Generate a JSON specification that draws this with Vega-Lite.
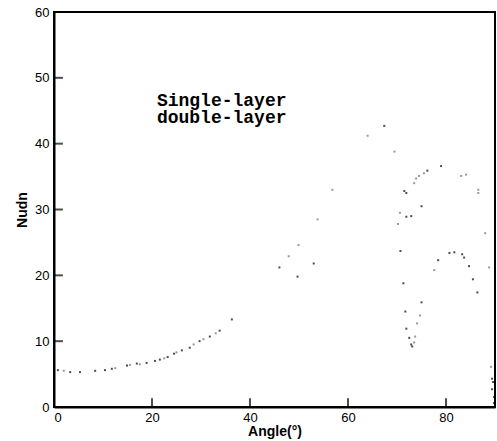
{
  "$schema": "https://vega.github.io/schema/vega-lite/v6.json",
  "width": 441,
  "height": 395,
  "autosize": {"type": "none"},
  "padding": {"left": 54, "top": 12, "right": 2, "bottom": 34},
  "background": "white",
  "config": {
    "view": {"stroke": "black", "strokeWidth": 2},
    "axis": {
      "grid": false,
      "domainColor": "black",
      "domainWidth": 2,
      "labelFont": "Liberation Sans",
      "labelFontSize": 13,
      "labelColor": "black",
      "titleFont": "Liberation Sans",
      "titleFontSize": 14,
      "titleFontWeight": "bold",
      "titleColor": "black"
    }
  },
  "datasets": {
    "pts": [
      {"angle": 0.8, "nu": 5.6, "series": "Single-layer"},
      {"angle": 3.3, "nu": 5.3, "series": "Single-layer"},
      {"angle": 5.3, "nu": 5.3, "series": "Single-layer"},
      {"angle": 8.4, "nu": 5.5, "series": "Single-layer"},
      {"angle": 10.4, "nu": 5.6, "series": "Single-layer"},
      {"angle": 11.8, "nu": 5.8, "series": "Single-layer"},
      {"angle": 14.9, "nu": 6.3, "series": "Single-layer"},
      {"angle": 16.9, "nu": 6.6, "series": "Single-layer"},
      {"angle": 18.9, "nu": 6.7, "series": "Single-layer"},
      {"angle": 20.6, "nu": 7.0, "series": "Single-layer"},
      {"angle": 21.6, "nu": 7.2, "series": "Single-layer"},
      {"angle": 23.2, "nu": 7.6, "series": "Single-layer"},
      {"angle": 24.5, "nu": 8.1, "series": "Single-layer"},
      {"angle": 26.1, "nu": 8.6, "series": "Single-layer"},
      {"angle": 27.7, "nu": 9.0, "series": "Single-layer"},
      {"angle": 29.7, "nu": 10.0, "series": "Single-layer"},
      {"angle": 31.8, "nu": 10.7, "series": "Single-layer"},
      {"angle": 33.8, "nu": 11.6, "series": "Single-layer"},
      {"angle": 36.3, "nu": 13.3, "series": "Single-layer"},
      {"angle": 46.0, "nu": 21.2, "series": "Single-layer"},
      {"angle": 49.7, "nu": 19.8, "series": "Single-layer"},
      {"angle": 53.0, "nu": 21.8, "series": "Single-layer"},
      {"angle": 67.4, "nu": 42.7, "series": "Single-layer"},
      {"angle": 71.5, "nu": 32.8, "series": "Single-layer"},
      {"angle": 71.9, "nu": 32.5, "series": "Single-layer"},
      {"angle": 76.2, "nu": 35.9, "series": "Single-layer"},
      {"angle": 79.0, "nu": 36.6, "series": "Single-layer"},
      {"angle": 75.0, "nu": 30.5, "series": "Single-layer"},
      {"angle": 72.9, "nu": 29.0, "series": "Single-layer"},
      {"angle": 71.9, "nu": 28.9, "series": "Single-layer"},
      {"angle": 70.7, "nu": 23.7, "series": "Single-layer"},
      {"angle": 71.3, "nu": 18.8, "series": "Single-layer"},
      {"angle": 71.7, "nu": 14.5, "series": "Single-layer"},
      {"angle": 71.9, "nu": 11.9, "series": "Single-layer"},
      {"angle": 72.5, "nu": 10.5, "series": "Single-layer"},
      {"angle": 72.9, "nu": 9.5, "series": "Single-layer"},
      {"angle": 73.1, "nu": 9.2, "series": "Single-layer"},
      {"angle": 80.7, "nu": 23.4, "series": "Single-layer"},
      {"angle": 81.7, "nu": 23.5, "series": "Single-layer"},
      {"angle": 83.3, "nu": 23.2, "series": "Single-layer"},
      {"angle": 83.7, "nu": 22.7, "series": "Single-layer"},
      {"angle": 78.4, "nu": 22.3, "series": "Single-layer"},
      {"angle": 84.7, "nu": 21.4, "series": "Single-layer"},
      {"angle": 85.5, "nu": 19.4, "series": "Single-layer"},
      {"angle": 86.4, "nu": 17.4, "series": "Single-layer"},
      {"angle": 75.0, "nu": 15.9, "series": "Single-layer"},
      {"angle": 89.4, "nu": 4.3, "series": "Single-layer"},
      {"angle": 89.6, "nu": 3.8, "series": "Single-layer"},
      {"angle": 89.4, "nu": 2.7, "series": "Single-layer"},
      {"angle": 89.8, "nu": 1.5, "series": "Single-layer"},
      {"angle": 89.8, "nu": 0.6, "series": "Single-layer"},
      {"angle": 2.0, "nu": 5.5, "series": "double-layer"},
      {"angle": 12.5, "nu": 5.9, "series": "double-layer"},
      {"angle": 15.5, "nu": 6.4, "series": "double-layer"},
      {"angle": 17.5, "nu": 6.5, "series": "double-layer"},
      {"angle": 22.5, "nu": 7.4, "series": "double-layer"},
      {"angle": 25.0, "nu": 8.3, "series": "double-layer"},
      {"angle": 28.5, "nu": 9.5, "series": "double-layer"},
      {"angle": 30.5, "nu": 10.3, "series": "double-layer"},
      {"angle": 33.0, "nu": 11.2, "series": "double-layer"},
      {"angle": 47.9, "nu": 22.9, "series": "double-layer"},
      {"angle": 49.9, "nu": 24.6, "series": "double-layer"},
      {"angle": 53.8, "nu": 28.5, "series": "double-layer"},
      {"angle": 56.8, "nu": 33.0, "series": "double-layer"},
      {"angle": 64.0, "nu": 41.2, "series": "double-layer"},
      {"angle": 69.5, "nu": 38.8, "series": "double-layer"},
      {"angle": 73.5, "nu": 34.0, "series": "double-layer"},
      {"angle": 73.9, "nu": 34.7, "series": "double-layer"},
      {"angle": 74.5, "nu": 35.1, "series": "double-layer"},
      {"angle": 75.5, "nu": 35.5, "series": "double-layer"},
      {"angle": 83.1, "nu": 35.1, "series": "double-layer"},
      {"angle": 84.1, "nu": 35.3, "series": "double-layer"},
      {"angle": 86.6, "nu": 33.0, "series": "double-layer"},
      {"angle": 86.6, "nu": 32.5, "series": "double-layer"},
      {"angle": 88.0, "nu": 26.4, "series": "double-layer"},
      {"angle": 88.8, "nu": 21.2, "series": "double-layer"},
      {"angle": 77.6, "nu": 20.8, "series": "double-layer"},
      {"angle": 74.7, "nu": 13.9, "series": "double-layer"},
      {"angle": 74.1, "nu": 12.7, "series": "double-layer"},
      {"angle": 73.7, "nu": 10.7, "series": "double-layer"},
      {"angle": 73.5, "nu": 9.8, "series": "double-layer"},
      {"angle": 70.2, "nu": 27.8, "series": "double-layer"},
      {"angle": 70.6, "nu": 29.5, "series": "double-layer"},
      {"angle": 89.2, "nu": 6.1, "series": "double-layer"}
    ],
    "legend": [
      {"angle": 21.0, "nu": 45.7, "label": "Single-layer"},
      {"angle": 21.0, "nu": 43.1, "label": "double-layer"}
    ],
    "xticks": [{"v": 0}, {"v": 20}, {"v": 40}, {"v": 60}, {"v": 80}],
    "yticks": [{"v": 0}, {"v": 10}, {"v": 20}, {"v": 30}, {"v": 40}, {"v": 50}, {"v": 60}]
  },
  "layer": [
    {
      "data": {"name": "pts"},
      "mark": {"type": "point", "filled": true, "size": 4, "shape": "square"},
      "encoding": {
        "x": {"field": "angle", "type": "quantitative", "scale": {"domain": [0, 90], "nice": false, "zero": false, "padding": 0},
          "axis": {"values": [0, 20, 40, 60, 80], "title": "Angle(°)", "labelPadding": 4, "titlePadding": 0, "ticks": false}},
        "y": {"field": "nu", "type": "quantitative", "scale": {"domain": [0, 60], "nice": false, "padding": 0},
          "axis": {"values": [0, 10, 20, 30, 40, 50, 60], "title": "Nudn", "labelPadding": 5, "titlePadding": 5, "ticks": false}},
        "color": {
          "field": "series", "type": "nominal",
          "scale": {"domain": ["Single-layer", "double-layer"], "range": ["#000000", "#6e6e6e"]},
          "legend": null
        }
      }
    },
    {
      "data": {"name": "xticks"},
      "mark": {"type": "tick", "color": "black", "thickness": 2, "size": 9, "orient": "vertical"},
      "encoding": {
        "x": {"field": "v", "type": "quantitative"},
        "y": {"datum": 0.65}
      }
    },
    {
      "data": {"name": "yticks"},
      "mark": {"type": "tick", "color": "black", "thickness": 2, "size": 9, "orient": "horizontal"},
      "encoding": {
        "y": {"field": "v", "type": "quantitative"},
        "x": {"datum": 0.9}
      }
    },
    {
      "data": {"name": "legend"},
      "mark": {"type": "text", "font": "Liberation Mono", "fontWeight": "bold", "fontSize": 18, "align": "left", "baseline": "alphabetic", "color": "black"},
      "encoding": {
        "x": {"field": "angle", "type": "quantitative"},
        "y": {"field": "nu", "type": "quantitative"},
        "text": {"field": "label"}
      }
    }
  ]
}
